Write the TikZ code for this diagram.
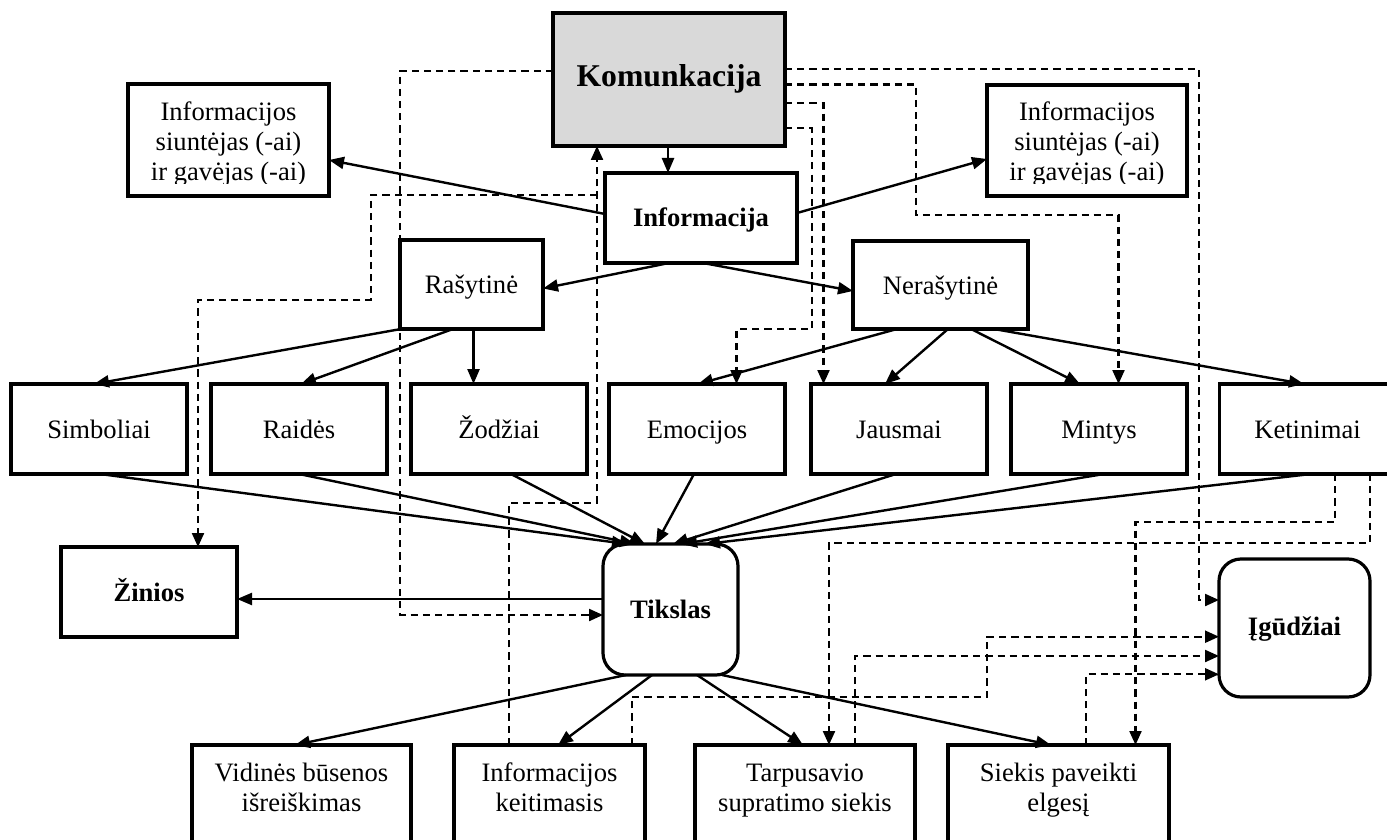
\documentclass[tikz,border=0pt]{standalone}
\usepackage{fontspec}
\setmainfont{Liberation Serif}
\usetikzlibrary{arrows.meta}
\definecolor{kombg}{RGB}{217,217,217}
\begin{document}
\begin{tikzpicture}[x=0.5pt,y=-0.5pt,
  every node/.style={font=\fontsize{13.3}{15}\selectfont, inner sep=0pt, outer sep=0pt},
  box/.style={draw, line width=1.6pt, rectangle, fill=white, text height=9pt, text depth=0pt},
  rbox/.style={box, rounded corners=11pt},
  boldtxt/.style={font=\fontsize{13.3}{15}\selectfont\bfseries},
  line/.style={anchor=base},
  conn/.style={line width=1.2pt, -{Triangle[length=7.5pt,width=6pt]}},
  dconn/.style={line width=1.1pt, dash pattern=on 3.6pt off 2.5pt, -{Triangle[length=7pt,width=6pt]}}
]
\path[use as bounding box] (0,0) rectangle (1387,840);
\clip (0,0) rectangle (1387,840);

% ---- top ----
\node[box, fill=kombg, minimum width=116pt, minimum height=66.5pt, text height=7.2pt] (kom) at (669,79.5)
  {\fontsize{15.85}{18}\selectfont\bfseries Komunkacija};
\node[box, boldtxt, minimum width=96pt, minimum height=45pt] (info) at (701,218) {Informacija};

% sender / receiver boxes
\node[box, minimum width=100.5pt, minimum height=56pt] (sendL) at (228.5,140) {};
\node[box, minimum width=100pt, minimum height=55.5pt] (sendR) at (1087,140.5) {};
\node[line] (sendL-a) at (228.5,120.7) {Informacijos};
\node[line] (sendL-b) at (228.5,150.7) {siuntėjas (-ai)};
\node[line] (sendR-a) at (1087,120.7) {Informacijos};
\node[line] (sendR-b) at (1087,150.7) {siuntėjas (-ai)};
\begin{scope}
  \clip (130,160) rectangle (327,183.5);
  \node[line] (sendL-c) at (228.5,180.7) {ir gavėjas (-ai)};
\end{scope}
\begin{scope}
  \clip (989,160) rectangle (1185,183.5);
  \node[line] (sendR-c) at (1087,180.7) {ir gavėjas (-ai)};
\end{scope}

% ---- written / unwritten ----
\node[box, minimum width=71.5pt, minimum height=44.5pt] (ras) at (471.5,284.5) {Rašytinė};
\node[box, minimum width=87.5pt, minimum height=44pt] (neras) at (940.5,285) {Nerašytinė};

% ---- middle row ----
\node[box, minimum width=88pt, minimum height=45pt] (simb) at (99,429) {Simboliai};
\node[box, minimum width=88pt, minimum height=45pt] (raid) at (299,429) {Raidės};
\node[box, minimum width=88pt, minimum height=45pt] (zod) at (499,429) {Žodžiai};
\node[box, minimum width=88pt, minimum height=45pt] (emo) at (697,429) {Emocijos};
\node[box, minimum width=88pt, minimum height=45pt] (jaus) at (899,429) {Jausmai};
\node[box, minimum width=88pt, minimum height=45pt] (mint) at (1099,429) {Mintys};
\node[box, minimum width=88pt, minimum height=45pt] (ket) at (1307.5,429) {Ketinimai};

% ---- goal level ----
\node[box, boldtxt, minimum width=88pt, minimum height=45pt] (zin) at (149,592) {Žinios};
\node[rbox, boldtxt, minimum width=67.5pt, minimum height=65.5pt] (tik) at (670.5,609.5) {Tikslas};
\node[rbox, boldtxt, minimum width=75.5pt, minimum height=69pt, text height=7.5pt] (igu) at (1294.5,628) {Įgūdžiai};

% ---- bottom row ----
\node[box, minimum width=109.5pt, minimum height=62.5pt] (vid) at (301.5,807.5) {};
\node[box, minimum width=95.5pt, minimum height=62.5pt] (keit) at (549.5,807.5) {};
\node[box, minimum width=110pt, minimum height=62.5pt] (tarp) at (805,807.5) {};
\node[box, minimum width=110.5pt, minimum height=62.5pt] (siek) at (1058.5,807.5) {};
\node[line] (vid-a) at (301.5,781.7) {Vidinės būsenos};
\node[line] (vid-b) at (301.5,811.7) {išreiškimas};
\node[line] (keit-a) at (549.5,781.7) {Informacijos};
\node[line] (keit-b) at (549.5,811.7) {keitimasis};
\node[line] (tarp-a) at (805,781.7) {Tarpusavio};
\node[line] (tarp-b) at (805,811.7) {supratimo siekis};
\node[line] (siek-a) at (1058.5,781.7) {Siekis paveikti};
\node[line] (siek-b) at (1058.5,811.7) {elgesį};

% ---- solid connectors ----
\draw[conn] (kom.south -| 668,0) -- (info.north -| 668,0);
\draw[conn] (info.west |- 0,214) -- (sendL.east |- 0,160);
\draw[conn] (info.east |- 0,213) -- (sendR.west |- 0,159);
\draw[conn] (info.south -| 669,0) -- (ras.east |- 0,288.5);
\draw[conn] (info.south -| 703,0) -- (neras.west |- 0,291);
\draw[conn] (ras.south -| 401,0) -- (simb.north -| 94,0);
\draw[conn] (ras.south -| 453,0) -- (raid.north -| 301,0);
\draw[conn] (ras.south -| 473.5,0) -- (zod.north -| 473.5,0);
\draw[conn] (neras.south -| 897,0) -- (emo.north -| 698,0);
\draw[conn] (neras.south -| 948,0) -- (jaus.north -| 885,0);
\draw[conn] (neras.south -| 971,0) -- (mint.north -| 1080,0);
\draw[conn] (neras.south -| 994,0) -- (ket.north -| 1304,0);

\draw[conn] (simb.south -| 100,0) -- (tik.north -| 627,0);
\draw[conn] (raid.south -| 299,0) -- (tik.north -| 635,0);
\draw[conn] (zod.south -| 511,0) -- (tik.north -| 645,0);
\draw[conn] (emo.south -| 694,0) -- (tik.north -| 656,0);
\draw[conn] (jaus.south -| 896,0) -- (tik.north -| 673,0);
\draw[conn] (mint.south -| 1104,0) -- (tik.north -| 682,0);
\draw[conn] (ket.south -| 1311,0) -- (tik.north -| 705,0);

\draw[conn] (tik.west |- 0,599) -- (zin.east |- 0,599);
\draw[conn] (tik.south -| 626,0) -- (vid.north -| 295,0);
\draw[conn] (tik.south -| 652,0) -- (keit.north -| 558,0);
\draw[conn] (tik.south -| 697,0) -- (tarp.north -| 803,0);
\draw[conn] (tik.south -| 722,0) -- (siek.north -| 1051,0);

% ---- dashed connectors ----
\coordinate (split) at (597,195);
\draw[dconn] (kom.west |- 0,71) -| (400,615) -- (tik.west |- 0,615);
\draw[dconn] (keit.north -| 509,0) |- (597,503) -- (kom.south -| 597,0);
\draw[dconn] (split) -| (371,300) -| (zin.north -| 198,0);
\draw[dconn] (kom.east |- 0,69.3) -| (1199,600) -- (igu.west |- 0,600);
\draw[dconn] (kom.east |- 0,84.5) -| (916,215) -| (mint.north -| 1118.5,0);
\draw[dconn] (kom.east |- 0,103.3) -| (jaus.north -| 823.5,0);
\draw[dconn] (kom.east |- 0,128.3) -| (812,329.3) -| (emo.north -| 736.5,0);
\draw[dconn] (ket.south -| 1335,0) |- (1135.5,521.7) -- (siek.north -| 1135.5,0);
\draw[dconn] (ket.south -| 1370,0) |- (829,543.3) -- (tarp.north -| 829,0);
\draw[dconn] (keit.north -| 631.6,0) |- (987,696.7) |- (igu.west |- 0,636.7);
\draw[dconn] (tarp.north -| 854.7,0) |- (igu.west |- 0,656);
\draw[dconn] (siek.north -| 1086,0) |- (igu.west |- 0,674.3);
\end{tikzpicture}
\end{document}
